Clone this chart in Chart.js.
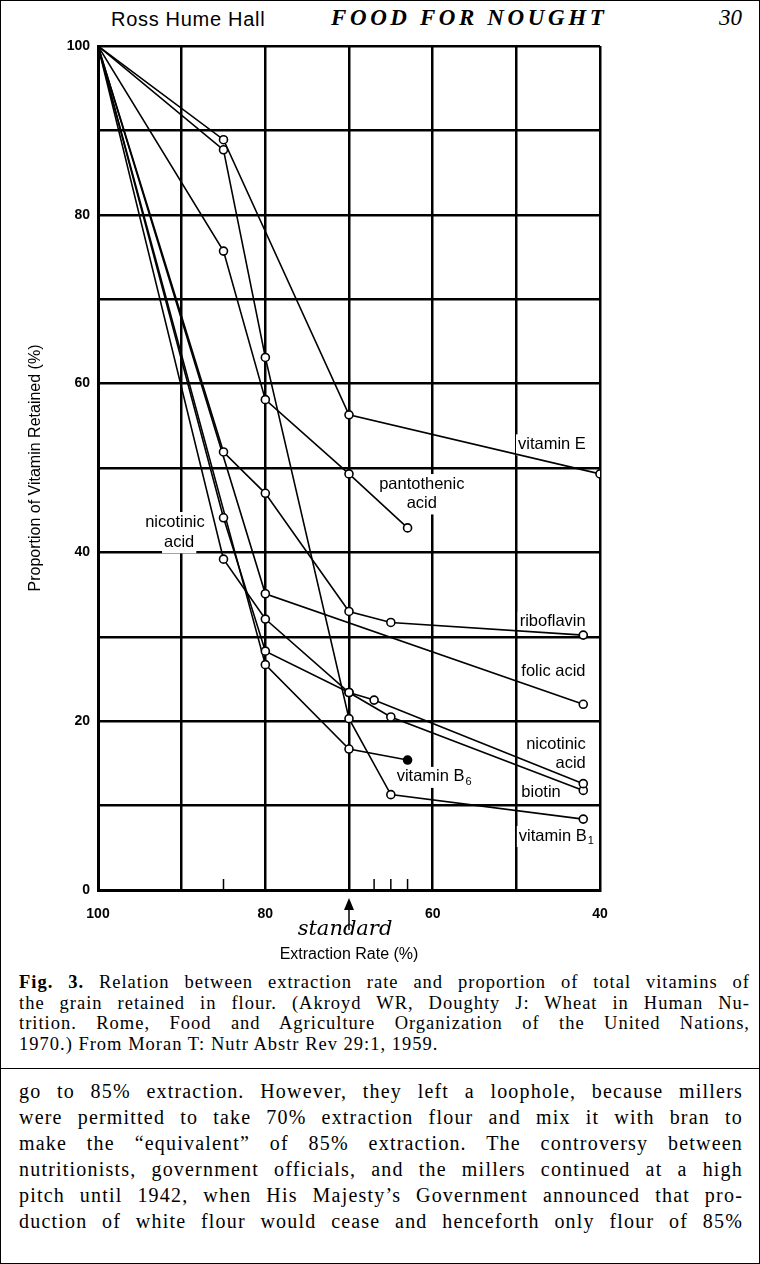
<!DOCTYPE html>
<html>
<head>
<meta charset="utf-8">
<script src="https://cdn.jsdelivr.net/npm/chart.js@4.4.0/dist/chart.umd.min.js"></script>
<style>
  html, body { margin: 0; padding: 0; background: #fff; }
  #page { position: relative; width: 760px; height: 1264px; box-sizing: border-box; border: 1px solid #000; overflow: hidden; color: #000; }
  #chartBox { position: absolute; left: 0; top: 0; width: 760px; height: 970px; }
  .hdr { position: absolute; top: 4px; white-space: nowrap; }
  #author { left: 110px; font: 20px "Liberation Sans", Arial, sans-serif; letter-spacing: 0.7px; top: 7px; }
  #title { left: 330px; font: italic bold 23px "Liberation Serif", "Times New Roman", serif; letter-spacing: 3.6px; }
  #pageno { left: 718px; font: italic 23px "Liberation Serif", "Times New Roman", serif; }
  #caption { position: absolute; left: 18px; top: 971px; width: 731px; font: 18.5px "Liberation Serif", "Times New Roman", serif; letter-spacing: 1px; line-height: 20.5px; }
  #rule { position: absolute; left: 0; top: 1067px; width: 760px; height: 0; border-top: 1.5px solid #000; }
  #body { position: absolute; left: 18px; top: 1077px; width: 724px; font: 20px "Liberation Serif", "Times New Roman", serif; letter-spacing: 1.2px; line-height: 26px; }
  .ln { text-align: justify; text-align-last: justify; white-space: nowrap; }
  .ln.last { text-align-last: left; }
</style>
</head>
<body>
<div id="page">
  <div class="hdr" id="author">Ross Hume Hall</div>
  <div class="hdr" id="title">FOOD FOR NOUGHT</div>
  <div class="hdr" id="pageno">30</div>
  <div id="chartBox"><canvas id="vitChart" width="760" height="970"></canvas></div>
  <div id="caption">
    <div class="ln"><b>Fig. 3.</b> Relation between extraction rate and proportion of total vitamins of</div>
    <div class="ln">the grain retained in flour. (Akroyd WR, Doughty J: Wheat in Human Nu-</div>
    <div class="ln">trition. Rome, Food and Agriculture Organization of the United Nations,</div>
    <div class="ln last">1970.) From Moran T: Nutr Abstr Rev 29:1, 1959.</div>
  </div>
  <div id="rule"></div>
  <div id="body">
    <div class="ln">go to 85% extraction. However, they left a loophole, because millers</div>
    <div class="ln">were permitted to take 70% extraction flour and mix it with bran to</div>
    <div class="ln">make the “equivalent” of 85% extraction. The controversy between</div>
    <div class="ln">nutritionists, government officials, and the millers continued at a high</div>
    <div class="ln">pitch until 1942, when His Majesty’s Government announced that pro-</div>
    <div class="ln">duction of white flour would cease and henceforth only flour of 85%</div>
  </div>
</div>
<script>
// extraction rate (%) and vitamin retained (%) for each curve
const vitE_rate = [100, 85, 70, 40];
const vitE_val = [100, 88.9, 56.3, 49.3];
const panto_rate = [100, 85, 80, 70, 63];
const panto_val = [100, 75.7, 58.1, 49.3, 42.9];
const ribo_rate = [100, 85, 80, 70, 65, 42];
const ribo_val = [100, 51.9, 47.0, 33.0, 31.7, 30.2];
const folic_rate = [100, 80, 42];
const folic_val = [100, 35.1, 22.0];
const nicotinic_rate = [100, 85, 80, 70, 67, 42];
const nicotinic_val = [100, 44.1, 28.3, 23.4, 22.5, 12.6];
const biotin_rate = [100, 85, 80, 70, 65, 42];
const biotin_val = [100, 39.2, 32.1, 23.4, 20.5, 11.8];
const b6_rate = [100, 80, 70, 63];
const b6_val = [100, 26.7, 16.7, 15.4];
const b1_rate = [100, 85, 80, 70, 65, 42];
const b1_val = [100, 87.7, 63.1, 20.3, 11.3, 8.4];

const xTicks = [100, 80, 60, 40];
const yTicks = [0, 20, 40, 60, 80, 100];
const minorXTicks = [85, 67, 65, 63];

// curve labels placed in data units
const curveLabels = [
  { text: "vitamin E", x: 49.8, y: 52.8, align: "left" },
  { text: "pantothenic", x: 61.3, y: 48.1, align: "center" },
  { text: "acid", x: 61.3, y: 45.8, align: "center" },
  { text: "nicotinic", x: 90.8, y: 43.6, align: "center" },
  { text: "acid", x: 90.3, y: 41.2, align: "center" },
  { text: "riboflavin", x: 49.6, y: 31.8, align: "left" },
  { text: "folic acid", x: 49.4, y: 25.9, align: "left" },
  { text: "nicotinic", x: 41.7, y: 17.3, align: "right" },
  { text: "acid", x: 41.7, y: 15.0, align: "right" },
  { text: "biotin", x: 49.4, y: 11.5, align: "left" },
  { text: "vitamin B", sub: "6", x: 64.3, y: 13.4, align: "left" },
  { text: "vitamin B", sub: "1", x: 49.7, y: 6.4, align: "left" },
];

const pts = (rates, vals) => rates.map((r, i) => ({ x: r, y: vals[i] }));

const series = [
  pts(vitE_rate, vitE_val),
  pts(panto_rate, panto_val),
  pts(ribo_rate, ribo_val),
  pts(folic_rate, folic_val),
  pts(nicotinic_rate, nicotinic_val),
  pts(biotin_rate, biotin_val),
  pts(b6_rate, b6_val),
  pts(b1_rate, b1_val),
];
const names = ["vitamin E", "pantothenic acid", "riboflavin", "folic acid", "nicotinic acid", "biotin", "vitamin B6", "vitamin B1"];

const datasets = series.map((d, i) => ({
  label: names[i],
  data: d,
  borderColor: "#000",
  borderWidth: 1.6,
  pointRadius: d.map(p => (p.x === 100 ? 0 : 4)),
  pointBorderWidth: 1.6,
  pointBorderColor: "#000",
  // the last vitamin B6 point is drawn filled
  pointBackgroundColor: d.map((p, j) => (i === 6 && j === d.length - 1 ? "#000" : "#fff")),
  tension: 0,
  fill: false,
}));

const labelFont = '16.5px "Liberation Sans", Arial, sans-serif';

const labelPlugin = {
  id: "curveLabels",
  beforeDatasetsDraw(chart) {
    const { ctx, scales } = chart;
    ctx.save();
    ctx.font = labelFont;
    ctx.textBaseline = "middle";
    curveLabels.forEach(l => {
      const px = scales.x.getPixelForValue(l.x);
      const py = scales.y.getPixelForValue(l.y);
      const w = ctx.measureText(l.text).width + (l.sub ? 9 : 0);
      let left = px;
      if (l.align === "center") left = px - w / 2;
      if (l.align === "right") left = px - w;
      ctx.fillStyle = "#fff";
      ctx.fillRect(left - 2, py - 10, w + 4, 21);
      ctx.fillStyle = "#000";
      ctx.textAlign = "left";
      ctx.fillText(l.text, left, py);
      if (l.sub) {
        const tw = ctx.measureText(l.text).width;
        ctx.font = '11px "Liberation Sans", Arial, sans-serif';
        ctx.fillText(l.sub, left + tw + 1, py + 5);
        ctx.font = labelFont;
      }
    });
    ctx.restore();
  },
  afterDraw(chart) {
    const { ctx, scales, chartArea } = chart;
    ctx.save();
    // short ticks on the bottom axis
    ctx.strokeStyle = "#000";
    ctx.lineWidth = 1.5;
    minorXTicks.forEach(v => {
      const px = scales.x.getPixelForValue(v);
      ctx.beginPath();
      ctx.moveTo(px, chartArea.bottom);
      ctx.lineTo(px, chartArea.bottom - 11);
      ctx.stroke();
    });
    // the handwritten "standard" note with arrow at 70
    const ax = scales.x.getPixelForValue(70);
    ctx.lineWidth = 1.5;
    ctx.beginPath();
    ctx.moveTo(ax, chartArea.bottom + 40);
    ctx.lineTo(ax, chartArea.bottom + 12);
    ctx.stroke();
    ctx.beginPath();
    ctx.moveTo(ax, chartArea.bottom + 8);
    ctx.lineTo(ax - 5, chartArea.bottom + 20);
    ctx.lineTo(ax + 5, chartArea.bottom + 20);
    ctx.closePath();
    ctx.fillStyle = "#000";
    ctx.fill();
    ctx.font = 'italic 21px "DejaVu Serif", serif';
    ctx.textAlign = "center";
    ctx.textBaseline = "middle";
    ctx.fillText("standard", ax - 4, chartArea.bottom + 40);
    ctx.restore();
  },
};

new Chart(document.getElementById("vitChart"), {
  type: "line",
  data: { datasets },
  plugins: [labelPlugin],
  options: {
    responsive: false,
    animation: false,
    layout: { padding: { top: 45, right: 161, left: 0, bottom: 0 } },
    plugins: { legend: { display: false }, tooltip: { enabled: false } },
    scales: {
      x: {
        type: "linear",
        reverse: true,
        min: 40,
        max: 100,
        afterFit: s => { s.height = 81; },
        ticks: {
          stepSize: 10,
          padding: 16,
          color: "#000",
          font: { family: '"Liberation Sans", Arial, sans-serif', size: 14, weight: "bold" },
          callback: v => (xTicks.includes(v) ? String(v) : ""),
          maxRotation: 0,
          autoSkip: false,
        },
        grid: { color: "#000", lineWidth: 2.5, drawTicks: false },
        border: { color: "#000", width: 3 },
        title: {
          display: true,
          text: "Extraction Rate (%)",
          color: "#000",
          font: { family: '"Liberation Sans", Arial, sans-serif', size: 16 },
          padding: { top: 0, bottom: 7 },
        },
      },
      y: {
        min: 0,
        max: 100,
        afterFit: s => { s.width = 97; },
        ticks: {
          stepSize: 10,
          padding: 8,
          color: "#000",
          font: { family: '"Liberation Sans", Arial, sans-serif', size: 14, weight: "bold" },
          callback: v => (yTicks.includes(v) ? String(v) : ""),
          autoSkip: false,
        },
        grid: { color: "#000", lineWidth: 2.5, drawTicks: false },
        border: { color: "#000", width: 3 },
        title: {
          display: true,
          text: "Proportion of Vitamin Retained (%)",
          color: "#000",
          font: { family: '"Liberation Sans", Arial, sans-serif', size: 16 },
          padding: { top: 25, bottom: 0 },
        },
      },
    },
  },
});
</script>
</body>
</html>
